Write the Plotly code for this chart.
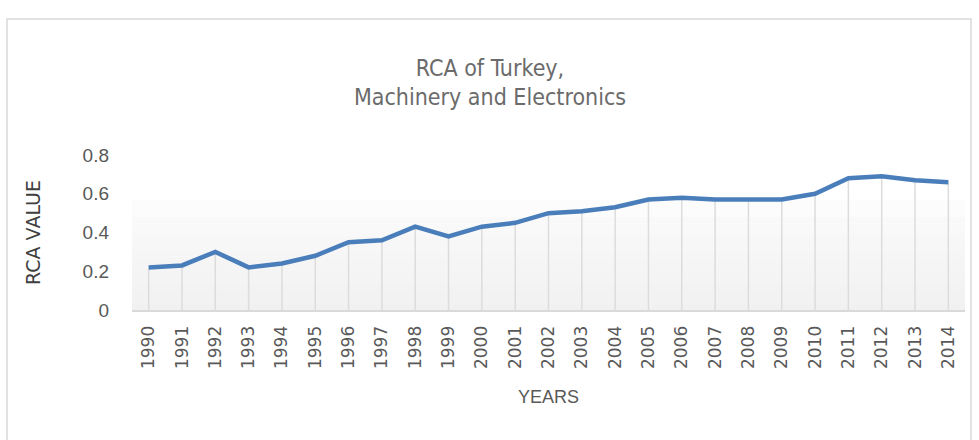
import plotly.graph_objects as go

years = [str(y) for y in range(1990, 2015)]
rca = [0.22, 0.23, 0.30, 0.22, 0.24, 0.28, 0.35, 0.36, 0.43, 0.38,
       0.43, 0.45, 0.50, 0.51, 0.53, 0.57, 0.58, 0.57, 0.57, 0.57,
       0.60, 0.68, 0.69, 0.67, 0.66]

title_text = "RCA of Turkey,<br>Machinery and Electronics"
y_title = "RCA VALUE"
x_title = "YEARS"
y_ticks = [0, 0.2, 0.4, 0.6, 0.8]
y_ticklabels = ["0", "0.2", "0.4", "0.6", "0.8"]

W, H = 979, 440
ml, mr, mt, mb = 132, 14, 155, 130

fig = go.Figure()

# drop lines from each point to the axis
fig.add_trace(go.Scatter(
    x=years, y=rca, mode="markers", marker=dict(size=0.1, color="rgba(0,0,0,0)"),
    error_y=dict(type="data", symmetric=False, array=[0] * len(rca), arrayminus=rca,
                 width=0, color="#dcdcdc", thickness=1.5),
    hoverinfo="skip", showlegend=False))

fig.add_trace(go.Scatter(
    x=years, y=rca, mode="lines", line=dict(color="#4a7ebb", width=4.5),
    showlegend=False))

shapes = []
# soft gray gradient band behind the plot
n = 14
for i in range(n):
    y0 = 0.48 * i / n
    y1 = 0.48 * (i + 1) / n
    a = 0.055 - 0.035 * i / n
    shapes.append(dict(type="rect", xref="paper", yref="y", x0=0, x1=1, y0=y0, y1=y1,
                       fillcolor=f"rgba(0,0,0,{a:.4f})", line=dict(width=0), layer="below"))
shapes.append(dict(type="rect", xref="paper", yref="y", x0=0, x1=1, y0=0.48, y1=0.57,
                   fillcolor="rgba(0,0,0,0.012)", line=dict(width=0), layer="below"))
# outer border
pw = W - ml - mr
ph = H - mt - mb
shapes.append(dict(type="rect", xref="paper", yref="paper",
                   x0=(7 - ml) / pw, x1=(971 - ml) / pw,
                   y0=(mb - 460) / ph, y1=(H - 19 - mb) / ph,
                   line=dict(color="#d9d9d9", width=1.5), fillcolor="rgba(0,0,0,0)"))

fig.update_layout(
    width=W, height=H,
    margin=dict(l=ml, r=mr, t=mt, b=mb, autoexpand=False),
    paper_bgcolor="white", plot_bgcolor="white",
    shapes=shapes,
    title=dict(text=title_text, x=(490 - ml) / pw, xref="paper", xanchor="center",
               y=1 - 75.5 / H, yanchor="middle",
               font=dict(family="Liberation Sans Narrow, DejaVu Sans Condensed, sans-serif",
                         size=23, color="#6b6b6b")),
    xaxis=dict(type="category", tickangle=-90, showgrid=False, automargin=False,
               showline=True, linecolor="#d9d9d9", linewidth=2,
               ticks="", ticklabelstandoff=7,
               tickfont=dict(family="DejaVu Sans", size=17, color="#595959"),
               title=dict(text=x_title, standoff=22,
                          font=dict(family="Liberation Sans Narrow, sans-serif",
                                    size=18, color="#595959")),
               range=[-0.5, len(years) - 0.5]),
    yaxis=dict(range=[0, 0.8], tickvals=y_ticks, ticktext=y_ticklabels,
               showgrid=False, zeroline=False, showline=False, ticks="",
               ticklabelstandoff=22, automargin=False,
               tickfont=dict(family="Liberation Sans Narrow, sans-serif", size=19,
                             color="#595959"),
               title=dict(text=y_title, standoff=36,
                          font=dict(family="DejaVu Sans", size=19, color="#404040"))),
)

fig.write_html("out.html", config={"displayModeBar": False},
               post_script="document.body.style.margin='0';")
